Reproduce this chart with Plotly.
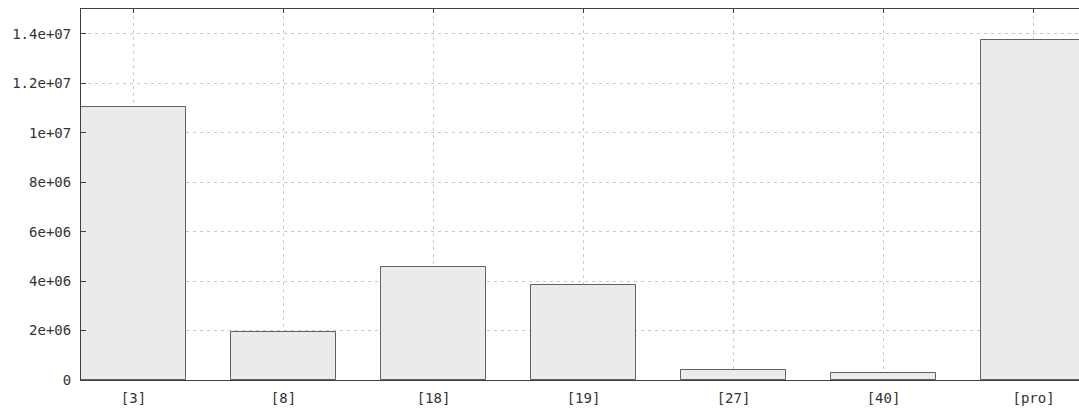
import plotly.graph_objects as go

# Category labels and bar heights
categories = ["[3]", "[8]", "[18]", "[19]", "[27]", "[40]", "[pro]"]
values = [11.02e6, 1.95e6, 4.57e6, 3.83e6, 0.39e6, 0.28e6, 13.76e6]

# Y tick positions and their printed labels
y_tick_vals = [0, 2e6, 4e6, 6e6, 8e6, 10e6, 12e6, 14e6]
y_tick_text = ["0", "2e+06", "4e+06", "6e+06", "8e+06", "1e+07", "1.2e+07", "1.4e+07"]

font_family = "DejaVu Sans Mono"
text_color = "#333333"
border = "#404040"
grid = "#c8c8c8"

fig = go.Figure(
    go.Bar(
        x=list(range(len(categories))),
        y=values,
        width=0.7,
        marker=dict(color="#ebebeb", line=dict(color="#606060", width=1)),
        hoverinfo="skip",
    )
)

fig.update_layout(
    width=1079,
    height=409,
    margin=dict(l=81, r=0, t=9, b=29),
    plot_bgcolor="white",
    paper_bgcolor="white",
    showlegend=False,
    font=dict(family=font_family, size=14, color=text_color),
    bargap=0,
)

fig.update_xaxes(
    range=[-0.35, 6.303],
    tickmode="array",
    tickvals=list(range(len(categories))),
    ticktext=categories,
    ticks="inside",
    ticklen=4,
    tickcolor=border,
    showline=True,
    linecolor=border,
    linewidth=1,
    mirror="ticks",
    showgrid=True,
    gridcolor=grid,
    griddash="3px,4px",
    gridwidth=1,
    zeroline=False,
    layer="below traces",
    ticklabelstandoff=5,
    tickfont=dict(family=font_family, size=14, color=text_color),
)

fig.update_yaxes(
    range=[0, 1.5e7],
    tickmode="array",
    tickvals=y_tick_vals,
    ticktext=y_tick_text,
    ticks="inside",
    ticklen=5,
    tickcolor=border,
    showline=True,
    linecolor=border,
    linewidth=1,
    showgrid=True,
    gridcolor=grid,
    griddash="3px,4px",
    gridwidth=1,
    zeroline=False,
    ticklabelstandoff=6,
    tickfont=dict(family=font_family, size=14, color=text_color),
)

fig.write_html("out.html")
